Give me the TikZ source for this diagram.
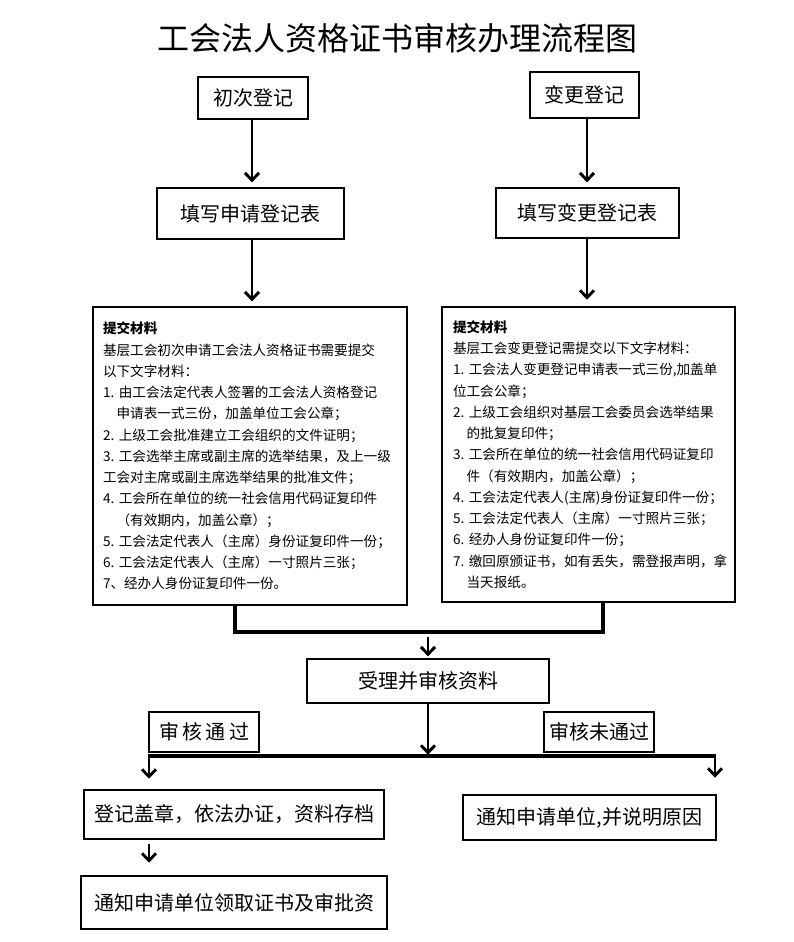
\documentclass[tikz,border=0pt]{standalone}
\usepackage{fontspec}
\setmainfont{Noto Sans CJK SC}
\usetikzlibrary{arrows.meta}
\begin{document}
\begin{tikzpicture}[x=0.75pt,y=-0.75pt,
  box/.style={draw, line width=0.9pt, inner sep=0pt, align=center, font=\fontsize{15}{18}\selectfont},
  mat/.style={draw, line width=0.9pt, inner sep=0pt, align=left, font=\fontsize{10.2}{15.94}\selectfont},
  arr/.style={line width=2.2pt, -{Straight Barb[length=5.5pt,width=10.5pt]}},
  bar/.style={line width=2.4pt}
]
\useasboundingbox (0,0) rectangle (793,942);
\node[font=\fontsize{24}{30}\selectfont] (T) at (397,38) {工会法人资格证书审核办理流程图};

\node[box, minimum width=82.5pt, minimum height=31.5pt] (A) at (253,98) {初次登记};
\node[box, minimum width=81.75pt, minimum height=34.5pt] (B) at (584.5,95) {变更登记};
\node[box, minimum width=140.25pt, minimum height=38.25pt] (C) at (250.5,213.5) {填写申请登记表};
\node[box, minimum width=137.25pt, minimum height=37.5pt] (D) at (587.5,213) {填写变更登记表};

\node[mat, minimum width=235.5pt, minimum height=223.5pt, text width=220.5pt] (E) at (250,456) {%
{\bfseries 提交材料}\\
基层工会初次申请工会法人资格证书需要提交\\
以下文字材料：\\
1.~由工会法定代表人签署的工会法人资格登记\\
\hspace*{1em}申请表一式三份，加盖单位工会公章；\\
2.~上级工会批准建立工会组织的文件证明；\\
3.~工会选举主席或副主席的选举结果，及上一级\\
工会对主席或副主席选举结果的批准文件；\\
4.~工会所在单位的统一社会信用代码证复印件\\
\hspace*{1em}（有效期内，加盖公章）；\\
5.~工会法定代表人（主席）身份证复印件一份；\\
6.~工会法定代表人（主席）一寸照片三张；\\
7、经办人身份证复印件一份。};

\node[mat, minimum width=219.75pt, minimum height=221.25pt, text width=203.25pt] (F) at (588.5,454.5) {%
{\bfseries 提交材料}\\
基层工会变更登记需提交以下文字材料：\\
1.~工会法人变更登记申请表一式三份,加盖单\\
位工会公章；\\
2.~上级工会组织对基层工会委员会选举结果\\
\hspace*{1em}的批复复印件；\\
3.~工会所在单位的统一社会信用代码证复印\\
\hspace*{1em}件（有效期内，加盖公章）；\\
4.~工会法定代表人(主席)身份证复印件一份；\\
5.~工会法定代表人（主席）一寸照片三张；\\
6.~经办人身份证复印件一份；\\
7.~缴回原颁证书，如有丢失，需登报声明，拿\\
\hspace*{1em}当天报纸。};

\node[box, minimum width=181.5pt, minimum height=33pt] (G) at (428,681) {受理并审核资料};
\node[box, minimum width=82.5pt, minimum height=30pt] (H) at (204,732) {审\,核\,通\,过};
\node[box, minimum width=82.5pt, minimum height=30pt] (I) at (599,732) {审核未通过};
\node[box, minimum width=225pt, minimum height=36.75pt] (J) at (234,814.5) {登记盖章，依法办证，资料存档};
\node[box, minimum width=229.5pt, minimum height=39.75pt] (K) at (234,902.5) {通知申请单位领取证书及审批资};
\node[box, minimum width=189.75pt, minimum height=33.75pt] (L) at (589.5,817.5) {通知申请单位,并说明原因};

% top arrows
\coordinate (ax) at (252,0);
\coordinate (bx) at (587,0);
\draw[arr, shorten >=3.75pt] (A.south -| ax) -- (C.north -| ax);
\draw[arr, shorten >=3.75pt] (B.south -| bx) -- (D.north -| bx);
\draw[arr, shorten >=3.75pt] (C.south -| ax) -- (E.north -| ax);
\draw[arr, shorten >=5pt] (D.south -| bx) -- (F.north -| bx);

% merge
\coordinate (m1) at (235,632);
\coordinate (m2) at (603,632);
\draw[bar] (E.south -| m1) -- (m1) -- (m2) -- (F.south -| m2);
\coordinate (j1) at (428,637);
\draw[arr, shorten >=1.5pt] (j1) -- (G.north -| j1);

% split
\coordinate (s) at (428,756);
\coordinate (sl) at (149,756);
\coordinate (sr) at (715,756);
\draw[arr] (G.south -| s) -- ([yshift=0.9pt]s);
\draw[bar] ([xshift=-0.9pt]sl) -- ([xshift=0.9pt]sr);
\draw[arr, shorten >=8pt] (sl) -- (J.north -| sl);
\draw[arr, shorten >=12.5pt] (sr) -- (L.north -| sr);
\draw[arr, shorten <=3pt, shorten >=9.5pt] (J.south -| sl) -- (K.north -| sl);
\end{tikzpicture}
\end{document}
